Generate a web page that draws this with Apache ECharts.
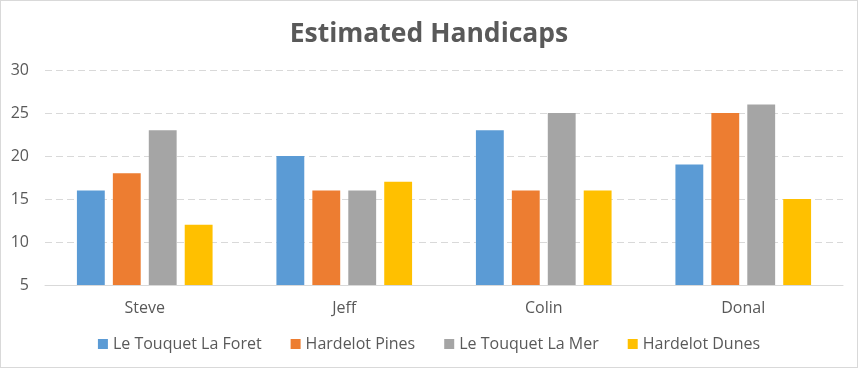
<!DOCTYPE html>
<html><head><meta charset="utf-8">
<script src="https://cdn.jsdelivr.net/npm/echarts@6/dist/echarts.min.js"></script>
<style>html,body{margin:0;padding:0;background:#fff}#c{width:856px;height:366px;border:1px solid #d9d9d9}</style>
</head><body><div id="c"></div>
<script>
const categories = ['Steve', 'Jeff', 'Colin', 'Donal'];
const seriesNames = ['Le Touquet La Foret', 'Hardelot Pines', 'Le Touquet La Mer', 'Hardelot Dunes'];
const leTouquetLaForet = [16, 20, 23, 19];
const hardelotPines = [18, 16, 16, 25];
const leTouquetLaMer = [23, 16, 25, 26];
const hardelotDunes = [12, 17, 16, 15];
const colors = ['#5b9bd5', '#ed7d31', '#a5a5a5', '#ffc000'];
const values = [leTouquetLaForet, hardelotPines, leTouquetLaMer, hardelotDunes];
const font = '"Open Sans", "Noto Sans", sans-serif';
const chart = echarts.init(document.getElementById('c'));
chart.setOption({
  animation: false,
  title: { text: 'Estimated Handicaps', left: 'center', top: 15,
    textStyle: { fontFamily: font, fontSize: 26.5, fontWeight: 'bold', color: '#595959' } },
  legend: { bottom: 10, itemWidth: 10, itemHeight: 10, itemGap: 29, icon: 'rect',
    textStyle: { fontFamily: font, fontSize: 16, color: '#595959' }, data: seriesNames },
  grid: { left: 44, right: 14, top: 69, bottom: 82, containLabel: false },
  xAxis: { type: 'category', data: categories,
    axisLine: { lineStyle: { color: '#d9d9d9' } }, axisTick: { show: false },
    axisLabel: { fontFamily: font, fontSize: 16, color: '#595959', margin: 15 } },
  yAxis: { type: 'value', min: 5, max: 30, interval: 5,
    axisLine: { show: false }, axisTick: { show: false },
    axisLabel: { fontFamily: font, fontSize: 16, color: '#595959', margin: 16 },
    splitLine: { lineStyle: { color: '#d9d9d9', type: [7, 4] } } },
  series: seriesNames.map((n, i) => ({
    name: n, type: 'bar', data: values[i], barGap: '29%', barCategoryGap: '32%',
    itemStyle: { color: colors[i] }
  }))
});
</script></body></html>
